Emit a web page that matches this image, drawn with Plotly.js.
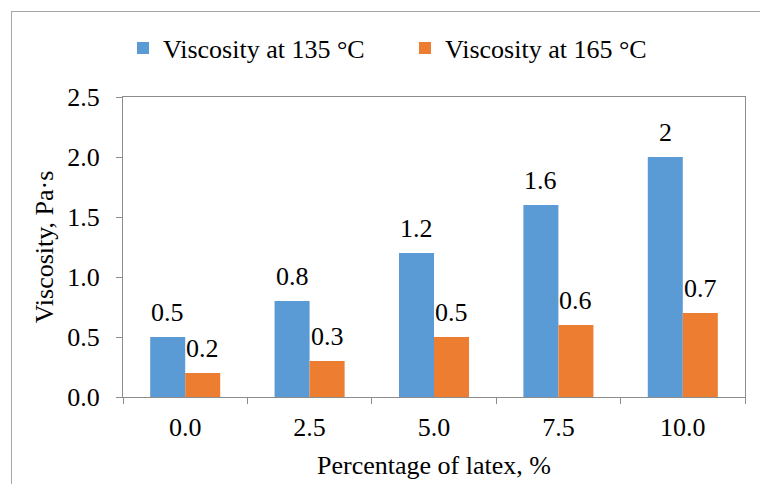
<!DOCTYPE html>
<html>
<head>
<meta charset="utf-8">
<script src="https://cdn.plot.ly/plotly-3.0.1.min.js"></script>
<style>
  html, body { margin: 0; padding: 0; background: #fff; overflow: hidden; }
  #wrap { position: relative; width: 760px; height: 484px; overflow: hidden; }
  #frame { position: absolute; left: 11px; top: 11px; width: 820px; height: 560px; border: 1px solid #a6a6a6; box-sizing: border-box; }
  #chart { position: absolute; left: 0; top: 0; width: 760px; height: 484px; }
</style>
</head>
<body>
<div id="wrap">
  <div id="frame"></div>
  <div id="chart"></div>
</div>
<script>
// Data
const categories = ["0.0", "2.5", "5.0", "7.5", "10.0"];
const visc135 = [0.5, 0.8, 1.2, 1.6, 2];
const visc165 = [0.2, 0.3, 0.5, 0.6, 0.7];
const seriesNames = ["Viscosity at 135 °C", "Viscosity at 165 °C"];
const yTicks = [0, 0.5, 1.0, 1.5, 2.0, 2.5];

const FONT = "'Liberation Serif', 'Times New Roman', serif";
const FS = 26;
const BLUE = "#5B9BD5";
const ORANGE = "#ED7D31";
const AXIS = "#8c8c8c";

const traces = [
  { type: "bar", name: seriesNames[0], x: categories, y: visc135, marker: { color: BLUE }, hoverinfo: "none" },
  { type: "bar", name: seriesNames[1], x: categories, y: visc165, marker: { color: ORANGE }, hoverinfo: "none" }
];

const annotations = [];
[visc135, visc165].forEach((vals, s) => {
  vals.forEach((v, i) => {
    annotations.push({
      x: i, y: v, xref: "x", yref: "y",
      text: String(v), showarrow: false,
      xanchor: "center", yanchor: "bottom",
      xshift: s === 0 ? -17.5 : 17.5, yshift: 8,
      font: { family: FONT, size: FS, color: "#000" }
    });
  });
});

const layout = {
  width: 760, height: 484,
  margin: { l: 123, r: 15, t: 97, b: 87 },
  paper_bgcolor: "rgba(0,0,0,0)",
  plot_bgcolor: "#fff",
  font: { family: FONT, size: FS, color: "#000" },
  showlegend: true,
  legend: {
    orientation: "h", x: 0, xanchor: "left", y: 1.163, yanchor: "middle",
    entrywidth: 237, entrywidthmode: "pixels",
    font: { family: FONT, size: FS, color: "#000" },
    bgcolor: "rgba(0,0,0,0)"
  },
  bargap: 0.437, bargroupgap: 0,
  xaxis: {
    type: "category",
    range: [-0.5, categories.length - 0.5],
    tickson: "boundaries",
    ticks: "outside", ticklen: 6, tickcolor: AXIS, tickwidth: 1,
    showline: true, linecolor: AXIS, linewidth: 1, mirror: true,
    showgrid: false, zeroline: false,
    ticklabelstandoff: 7,
    tickfont: { family: FONT, size: FS, color: "#000" },
    title: { text: "Percentage of latex, %", font: { family: FONT, size: FS, color: "#000" }, standoff: 14 },
    automargin: false
  },
  yaxis: {
    range: [0, 2.5],
    tickvals: yTicks, tickformat: ".1f",
    ticks: "outside", ticklen: 6, tickcolor: AXIS, tickwidth: 1,
    showline: true, linecolor: AXIS, linewidth: 1, mirror: true,
    showgrid: false, zeroline: false,
    ticklabelstandoff: 11,
    tickfont: { family: FONT, size: FS, color: "#000" },
    title: { text: "Viscosity, Pa·s", font: { family: FONT, size: FS, color: "#000" }, standoff: 6 },
    automargin: false
  },
  annotations: annotations
};

Plotly.newPlot("chart", traces, layout, { displayModeBar: false, staticPlot: true });
</script>
</body>
</html>
